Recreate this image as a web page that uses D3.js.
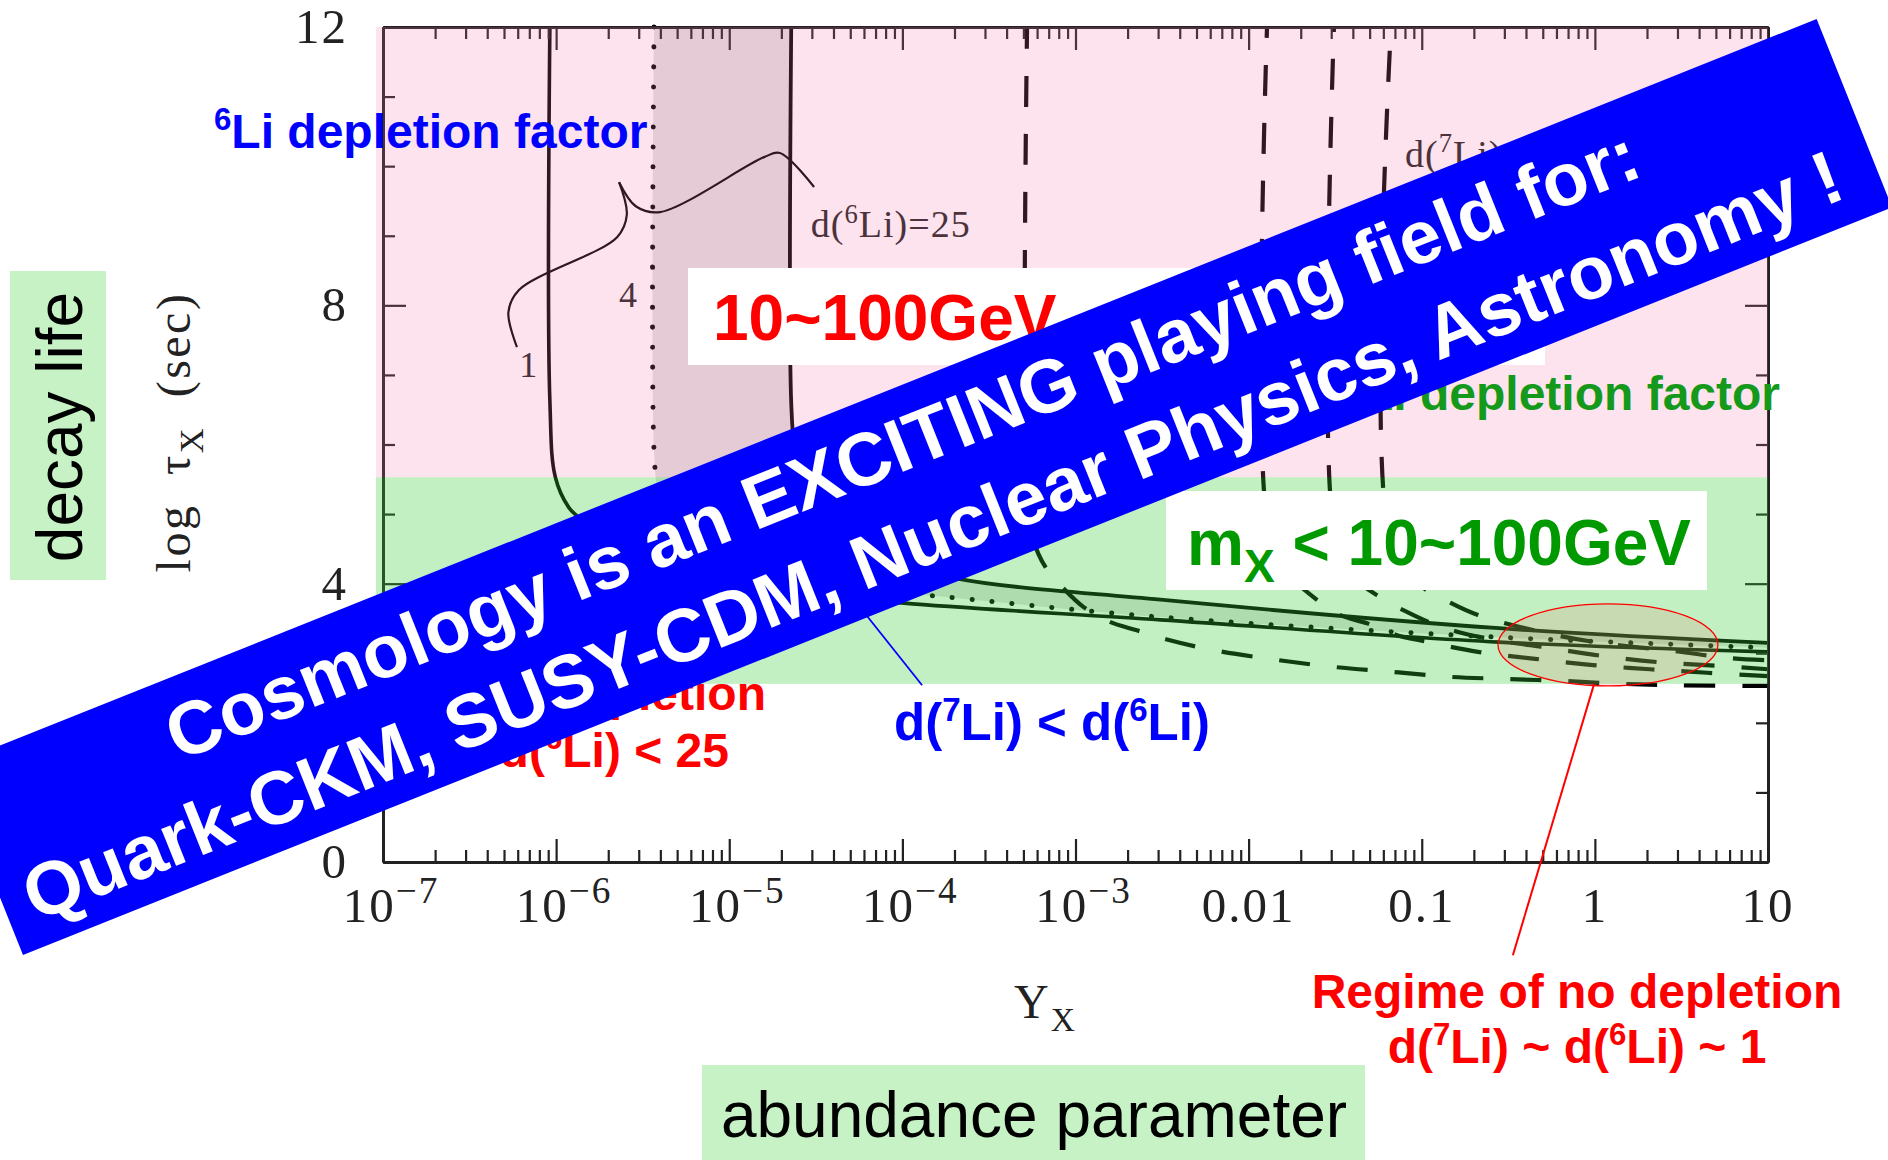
<!DOCTYPE html>
<html>
<head>
<meta charset="utf-8">
<script src="https://cdn.jsdelivr.net/npm/d3@7"></script>
<style>
  html, body { margin: 0; padding: 0; background: #fff; }
  svg { display: block; }
</style>
</head>
<body>
<svg id="chart" width="1888" height="1160"></svg>
<script>
// ---------------- data ----------------
// x axis: abundance Y_X (log scale), y axis: log10 of the decay life (sec)
const xDomain = [1e-7, 10];
const yDomain = [0, 12];
const xTickLabels = [
  [1e-7, "10", "−7"], [1e-6, "10", "−6"], [1e-5, "10", "−5"], [1e-4, "10", "−4"],
  [1e-3, "10", "−3"], [0.01, "0.01", null], [0.1, "0.1", null], [1, "1", null], [10, "10", null]
];
const yMajorTicks = [0, 4, 8, 12];
const yMinorTicks = [1, 2, 3, 5, 6, 7, 9, 10, 11];

// highlighted log(tau) ranges
const lifeBandGreen = [2.56, 5.53];
const lifeBandPink = [5.53, 12];

// 6Li depletion contours  [Y_X, log tau_X]
const li6Contour1 = [
  [9.2e-7, 12], [9.2e-7, 6.64], [9.9e-7, 5.53], [1.18e-6, 5.10], [1.34e-6, 4.96],
  [1.78e-6, 4.70], [3.2e-6, 4.35], [1.0e-5, 4.02], [3.2e-5, 3.85], [1.02e-4, 3.72],
  [3.1e-3, 3.48], [0.28, 3.16], [10, 3.02]
];
const li6Contour4 = [
  [3.68e-6, 12], [3.68e-6, 5.9], [3.9e-6, 5.3], [4.7e-6, 4.8], [7.1e-6, 4.4],
  [1.58e-5, 4.1], [5.0e-5, 3.93], [1.31e-4, 3.84], [3.1e-3, 3.52], [0.28, 3.23], [10, 3.08]
];
const li6Contour25 = [
  [2.28e-5, 12], [2.28e-5, 6.6], [2.4e-5, 5.9], [2.8e-5, 5.3], [4.0e-5, 4.8],
  [7.1e-5, 4.4], [2.0e-4, 4.08], [3.1e-3, 3.77], [0.28, 3.36], [10, 3.15]
];

// 7Li depletion contours (dashed)  [Y_X, log tau_X]
const li7ContourA = [
  [5.25e-4, 12], [5.25e-4, 5.2], [5.7e-4, 4.63], [6.7e-4, 4.24], [8.7e-4, 3.91],
  [1.12e-3, 3.66], [1.58e-3, 3.45], [2.26e-3, 3.33], [3.33e-3, 3.20], [6.1e-3, 3.05],
  [1.5e-2, 2.90], [3.2e-2, 2.80], [6.9e-2, 2.73], [0.148, 2.66], [0.315, 2.63],
  [0.68, 2.60], [1.45, 2.56], [3.1, 2.54], [10, 2.53]
];
const li7ContourB = [
  [0.01277, 12], [0.01277, 4.92], [0.0162, 4.20], [0.0242, 3.79], [0.0337, 3.55],
  [0.0483, 3.43], [0.072, 3.26], [0.100, 3.18], [0.211, 3.02], [0.451, 2.92],
  [0.975, 2.83], [2.08, 2.77], [4.45, 2.72], [10, 2.67]
];
const li7ContourC = [
  [0.0311, 12], [0.0311, 4.77], [0.0395, 4.12], [0.0589, 3.79], [0.0843, 3.58],
  [0.1146, 3.43], [0.171, 3.29], [0.283, 3.18], [0.529, 3.08], [1.114, 2.96],
  [2.38, 2.87], [5.14, 2.82], [10, 2.77]
];
const li7ContourD = [
  [0.0664, 12], [0.0664, 4.56], [0.0977, 3.98], [0.148, 3.72], [0.211, 3.55],
  [0.445, 3.33], [1.0, 3.16], [2.9, 3.03], [6.04, 2.93], [10, 2.90]
];

// brace that ties the contour numbers to their label
const braceLeft = [[5.94e-7, 7.40], [5.3e-7, 7.90], [6.1e-7, 8.22], [2.25e-6, 8.98], [2.56e-6, 9.30], [2.31e-6, 9.77]];
const braceRight = [[2.31e-6, 9.77], [2.9e-6, 9.42], [3.98e-6, 9.34], [1.59e-5, 10.13], [1.96e-5, 10.19], [3.09e-5, 9.70]];

// contour labels [Y_X, log tau_X]
const labelOne = [6.9e-7, 6.97];
const labelFour = [2.6e-6, 7.98];
const labelLi6 = [2.96e-5, 8.98];
const labelLi7 = [0.080, 9.99];

// no-depletion regime (ellipse centre and half widths in decades / log tau)
const regimeCenter = [1.19, 3.12];
const regimeHalf = [0.635, 0.59];
const regimePointer = [[0.99, 2.56], [0.336, -1.34]];
const li7li6Pointer = [[4.99e-5, 3.84], [1.3e-4, 2.54]];

// ---------------- layout ----------------
const svg = d3.select("#chart");
const plot = { left: 383, right: 1768, top: 27, bottom: 862 };
const x = d3.scaleLog().domain(xDomain).range([plot.left, plot.right]);
const y = d3.scaleLinear().domain(yDomain).range([plot.bottom, plot.top]);

const SERIF = "'Liberation Serif', 'Times New Roman', serif";
const SANS = "'Liberation Sans', Arial, sans-serif";

// text with superscript (1) / subscript (-1) pieces
function richText(parent, px, py, parts, attrs) {
  const t = parent.append("text").attr("x", px).attr("y", py);
  Object.entries(attrs).forEach(([k, v]) => t.attr(k, v));
  const fs = attrs["font-size"];
  let cur = 0;
  parts.forEach(p => {
    const [str, kind, extra] = p;
    let off = 0, size = null;
    if (kind === 1) { off = -fs * 0.38; size = fs * (extra || 0.65); }
    if (kind === -1) { off = fs * 0.27; size = fs * (extra || 0.7); }
    const s = t.append("tspan").attr("dy", off - cur).text(str);
    if (size) s.attr("font-size", size);
    cur = off;
  });
  return t;
}

const line = d3.line().x(d => x(d[0])).y(d => y(d[1])).curve(d3.curveCatmullRom.alpha(0.5));

// ---------------- original figure ----------------
const fig = svg.append("g");

// shaded region between the d=4 and d=25 contours
const reversed25 = li6Contour25.slice().reverse();
fig.append("path")
  .attr("d", line(li6Contour4) + line(reversed25).replace(/^M/, "L") + "Z")
  .attr("fill", "#e2e2e2");

// contours
fig.append("path").attr("d", line(li6Contour1))
  .attr("fill", "none").attr("stroke", "#000").attr("stroke-width", 3.6);
fig.append("path").attr("d", line(li6Contour25))
  .attr("fill", "none").attr("stroke", "#000").attr("stroke-width", 3.8);
fig.append("path").attr("d", line(li6Contour4))
  .attr("fill", "none").attr("stroke", "#000").attr("stroke-width", 5)
  .attr("stroke-linecap", "round").attr("stroke-dasharray", "0.1,19.9");

const dashed = [[li7ContourA, 9], [li7ContourB, 20], [li7ContourC, 26], [li7ContourD, 34]];
dashed.forEach(([pts, off]) => {
  fig.append("path").attr("d", line(pts))
    .attr("fill", "none").attr("stroke", "#000").attr("stroke-width", 4.2)
    .attr("stroke-dasharray", "31,27").attr("stroke-dashoffset", off);
});

// brace
[braceLeft, braceRight].forEach(b => {
  fig.append("path").attr("d", line(b))
    .attr("fill", "none").attr("stroke", "#000").attr("stroke-width", 2.2);
});

// contour labels
fig.append("text").attr("x", x(labelOne[0])).attr("y", y(labelOne[1]))
  .attr("text-anchor", "middle").attr("font-family", SERIF).attr("font-size", 36)
  .attr("fill", "#222").text("1");
fig.append("text").attr("x", x(labelFour[0])).attr("y", y(labelFour[1]))
  .attr("text-anchor", "middle").attr("font-family", SERIF).attr("font-size", 36)
  .attr("fill", "#222").text("4");
richText(fig, x(labelLi6[0]), y(labelLi6[1]),
  [["d(", 0], ["6", 1, 0.7], ["Li)=25", 0]],
  { "font-family": SERIF, "font-size": 38, "fill": "#222", "letter-spacing": 1 });
richText(fig, x(labelLi7[0]), y(labelLi7[1]),
  [["d(", 0], ["7", 1, 0.7], ["Li)=3", 0]],
  { "font-family": SERIF, "font-size": 38, "fill": "#222", "letter-spacing": 1 });

// axes frame with inward ticks
const majorX = x.ticks().filter(v => Math.abs(Math.log10(v) - Math.round(Math.log10(v))) < 1e-9);
const minorX = x.ticks().filter(v => !majorX.includes(v));
function styleAxis(g) {
  g.selectAll("text").remove();
  g.selectAll("line").attr("stroke", "#222").attr("stroke-width", 2.2);
  g.select(".domain").attr("stroke", "#222").attr("stroke-width", 2.8);
}
const axes = fig.append("g");
axes.append("g").attr("transform", `translate(0,${plot.bottom})`)
  .call(d3.axisBottom(x).tickValues(majorX).tickSizeInner(-23).tickSizeOuter(0)).call(styleAxis);
axes.append("g").attr("transform", `translate(0,${plot.bottom})`)
  .call(d3.axisBottom(x).tickValues(minorX).tickSizeInner(-12).tickSizeOuter(0)).call(styleAxis);
axes.append("g").attr("transform", `translate(0,${plot.top})`)
  .call(d3.axisTop(x).tickValues(majorX).tickSizeInner(-23).tickSizeOuter(0)).call(styleAxis);
axes.append("g").attr("transform", `translate(0,${plot.top})`)
  .call(d3.axisTop(x).tickValues(minorX).tickSizeInner(-12).tickSizeOuter(0)).call(styleAxis);
axes.append("g").attr("transform", `translate(${plot.left},0)`)
  .call(d3.axisLeft(y).tickValues(yMajorTicks).tickSizeInner(-23).tickSizeOuter(0)).call(styleAxis);
axes.append("g").attr("transform", `translate(${plot.left},0)`)
  .call(d3.axisLeft(y).tickValues(yMinorTicks).tickSizeInner(-12).tickSizeOuter(0)).call(styleAxis);
axes.append("g").attr("transform", `translate(${plot.right},0)`)
  .call(d3.axisRight(y).tickValues(yMajorTicks).tickSizeInner(-23).tickSizeOuter(0)).call(styleAxis);
axes.append("g").attr("transform", `translate(${plot.right},0)`)
  .call(d3.axisRight(y).tickValues(yMinorTicks).tickSizeInner(-12).tickSizeOuter(0)).call(styleAxis);

// tick labels
xTickLabels.forEach(([v, base, exp]) => {
  if (exp) {
    richText(fig, x(v) + 8, plot.bottom + 60, [[base, 0], [exp, 1, 0.76]],
      { "font-family": SERIF, "font-size": 49, "fill": "#222", "text-anchor": "middle", "letter-spacing": 2 });
  } else {
    fig.append("text").attr("x", x(v)).attr("y", plot.bottom + 60)
      .attr("text-anchor", "middle").attr("font-family", SERIF).attr("font-size", 49)
      .attr("fill", "#222").attr("letter-spacing", 2).text(base);
  }
});
yMajorTicks.forEach(v => {
  fig.append("text").attr("x", plot.left - 35).attr("y", y(v) + 16)
    .attr("text-anchor", "end").attr("font-family", SERIF).attr("font-size", 49)
    .attr("fill", "#222").attr("letter-spacing", 2).text(v);
});

// axis titles
richText(fig, 0, 0, [["log ", 0], ["τ", 0], ["X", -1, 0.72], [" (sec)", 0]],
  { "font-family": SERIF, "font-size": 48, "fill": "#222", "text-anchor": "middle",
    "transform": "translate(190,432) rotate(-90)", "letter-spacing": 2.5, "word-spacing": 14 });
richText(fig, 1014, 1018, [["Y", 0], ["X", -1, 0.7]],
  { "font-family": SERIF, "font-size": 48, "fill": "#222", "letter-spacing": 2 });

// ---------------- translucent highlight bands ----------------
const bands = svg.append("g");
bands.append("rect")
  .attr("x", plot.left - 7).attr("width", plot.right - plot.left + 7)
  .attr("y", y(lifeBandPink[1])).attr("height", y(lifeBandPink[0]) - y(lifeBandPink[1]))
  .attr("fill", "rgb(240,115,165)").attr("fill-opacity", 0.2);
bands.append("rect")
  .attr("x", plot.left - 7).attr("width", plot.right - plot.left + 7)
  .attr("y", y(lifeBandGreen[1])).attr("height", y(lifeBandGreen[0]) - y(lifeBandGreen[1]))
  .attr("fill", "rgb(55,205,55)").attr("fill-opacity", 0.3);

// ---------------- annotations ----------------
const ann = svg.append("g");

// side / bottom captions
ann.append("rect").attr("x", 10).attr("y", 271).attr("width", 96).attr("height", 309).attr("fill", "#c6f2c6");
ann.append("text").attr("transform", "translate(82,427) rotate(-90)")
  .attr("text-anchor", "middle").attr("font-family", SANS).attr("font-size", 64)
  .attr("fill", "#000").text("decay life");
ann.append("rect").attr("x", 702).attr("y", 1065).attr("width", 663).attr("height", 95).attr("fill", "#c6f2c6");
ann.append("text").attr("x", 1034).attr("y", 1137)
  .attr("text-anchor", "middle").attr("font-family", SANS).attr("font-size", 64)
  .attr("fill", "#000").text("abundance parameter");

// depletion factor captions
richText(ann, 214, 148, [["6", 1], ["Li depletion factor", 0]],
  { "font-family": SANS, "font-size": 48, "font-weight": "bold", "fill": "#0000ff" });
richText(ann, 1780, 410, [["7", 1], ["Li depletion factor", 0]],
  { "font-family": SANS, "font-size": 48, "font-weight": "bold", "fill": "#14991a", "text-anchor": "end" });

// mass boxes
ann.append("rect").attr("x", 688).attr("y", 268).attr("width", 857).attr("height", 97).attr("fill", "#fff");
ann.append("text").attr("x", 713).attr("y", 340)
  .attr("font-family", SANS).attr("font-size", 64).attr("font-weight", "bold")
  .attr("fill", "#ff0000").text("10~100GeV");
ann.append("rect").attr("x", 1166).attr("y", 491).attr("width", 541).attr("height", 99).attr("fill", "#fff");
richText(ann, 1187, 565, [["m", 0], ["X", -1, 0.72], [" < 10~100GeV", 0]],
  { "font-family": SANS, "font-size": 64, "font-weight": "bold", "fill": "#009900" });

// no-depletion regime
const rx = x(regimeCenter[0] * Math.pow(10, regimeHalf[0])) - x(regimeCenter[0]);
const ry = y(regimeCenter[1]) - y(regimeCenter[1] + regimeHalf[1]);
ann.append("ellipse")
  .attr("cx", x(regimeCenter[0])).attr("cy", y(regimeCenter[1]))
  .attr("rx", rx).attr("ry", ry)
  .attr("fill", "rgb(225,120,100)").attr("fill-opacity", 0.18)
  .attr("stroke", "#ff0000").attr("stroke-width", 1.3);
ann.append("line")
  .attr("x1", x(regimePointer[0][0])).attr("y1", y(regimePointer[0][1]))
  .attr("x2", x(regimePointer[1][0])).attr("y2", y(regimePointer[1][1]))
  .attr("stroke", "#ff0000").attr("stroke-width", 2);
ann.append("text").attr("x", 1577).attr("y", 1008)
  .attr("text-anchor", "middle").attr("font-family", SANS).attr("font-size", 48)
  .attr("font-weight", "bold").attr("fill", "#ff0000").text("Regime of no depletion");
richText(ann, 1577, 1063, [["d(", 0], ["7", 1], ["Li) ~ d(", 0], ["6", 1], ["Li) ~ 1", 0]],
  { "font-family": SANS, "font-size": 48, "font-weight": "bold", "fill": "#ff0000", "text-anchor": "middle" });

// 7Li vs 6Li pointer
ann.append("line")
  .attr("x1", x(li7li6Pointer[0][0])).attr("y1", y(li7li6Pointer[0][1]))
  .attr("x2", x(li7li6Pointer[1][0])).attr("y2", y(li7li6Pointer[1][1]))
  .attr("stroke", "#0000ff").attr("stroke-width", 1.8);
richText(ann, 894, 740, [["d(", 0], ["7", 1], ["Li) < d(", 0], ["6", 1], ["Li)", 0]],
  { "font-family": SANS, "font-size": 51, "font-weight": "bold", "fill": "#0000ff" });

// depletion range caption
ann.append("text").attr("x", 766).attr("y", 710)
  .attr("text-anchor", "end").attr("font-family", SANS).attr("font-size", 48)
  .attr("font-weight", "bold").attr("fill", "#ff0000").text("Large depletion");
richText(ann, 729, 767, [["4 < d(", 0], ["6", 1], ["Li) < 25", 0]],
  { "font-family": SANS, "font-size": 48, "font-weight": "bold", "fill": "#ff0000", "text-anchor": "end" });

// ---------------- banner ----------------
const banner = svg.append("g").attr("transform", "translate(23,955) rotate(-21.8)");
banner.append("rect").attr("x", 0).attr("y", -203).attr("width", 2013).attr("height", 203).attr("fill", "#0000ff");
banner.append("text").attr("x", 1006).attr("y", -122)
  .attr("text-anchor", "middle").attr("font-family", SANS).attr("font-size", 75)
  .attr("font-weight", "bold").attr("fill", "#fff")
  .text("Cosmology is an EXCITING playing field for:");
banner.append("text").attr("x", 1000).attr("y", -26)
  .attr("text-anchor", "middle").attr("font-family", SANS).attr("font-size", 75)
  .attr("font-weight", "bold").attr("fill", "#fff")
  .text("Quark-CKM, SUSY-CDM, Nuclear Physics, Astronomy !");
</script>
</body>
</html>
